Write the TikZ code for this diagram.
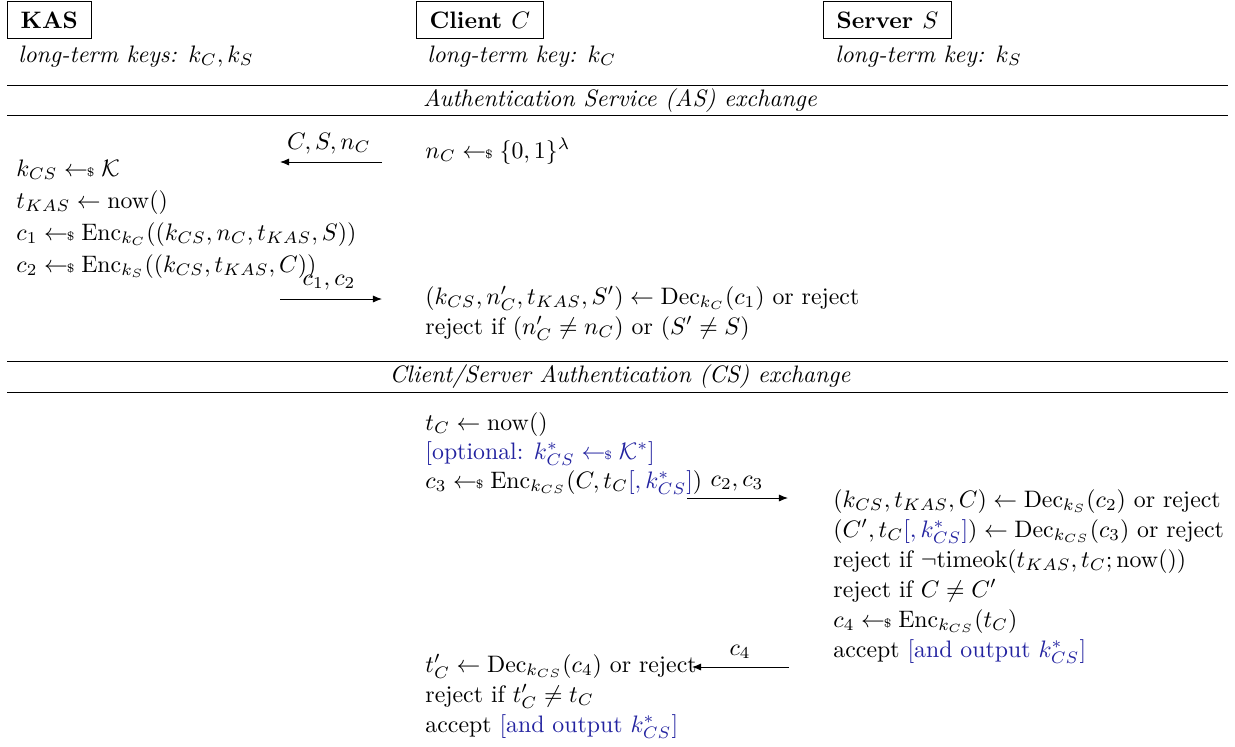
\documentclass[tikz,border=0pt]{standalone}
\usetikzlibrary{arrows.meta}
\usepackage{amsmath,amssymb}
\definecolor{optblue}{RGB}{35,35,160}
\newcommand{\smp}{\mathrel{\gets\!\!\mbox{\tiny$\$$}}}
\newcommand{\opt}[1]{{\color{optblue}#1}}
\begin{document}
\begin{tikzpicture}[x=0.42pt,y=-0.42pt,
  txt/.style={anchor=base west,inner sep=0pt},
  ttl/.style={anchor=base,inner sep=0pt,font=\itshape},
  party/.style={draw,anchor=north west,inner xsep=5.5pt,inner ysep=4.2pt,font=\bfseries},
  rulestyle/.style={line width=0.4pt},
  msg/.style={-{Latex[length=3.8pt,width=3pt]}},
  lbl/.style={anchor=base,inner sep=0pt}]
\useasboundingbox (0,0) rectangle (1235,746);
% headers
\node[party] (kas) at (7,1) {KAS};
\node[party] (cli) at (416,1) {Client $C$};
\node[party] (srv) at (823,1) {Server $S$};
\node[txt] (hk) at (18,62) {\textit{long-term keys: $k_C, k_S$}};
\node[txt] (hc) at (427,62) {\textit{long-term key: $k_C$}};
\node[txt] (hs) at (835,62) {\textit{long-term key: $k_S$}};
% AS section rules
\coordinate (r1l) at (7,85); \coordinate (r1r) at (1228,85);
\coordinate (r2l) at (7,115); \coordinate (r2r) at (1228,115);
\draw[rulestyle] (r1l) -- (r1r);
\draw[rulestyle] (r2l) -- (r2r);
\node[ttl] (t1) at (620,106) {Authentication Service (AS) exchange};
% AS exchange
\node[txt] (c0) at (425,158) {$n_C \smp \{0,1\}^\lambda$};
\coordinate (a1s) at (382,162); \coordinate (a1e) at (280,162);
\draw[msg] (a1s) -- (a1e);
\node[lbl] (l1) at (329,149) {$C, S, n_C$};
\node[txt] (k1) at (16,176) {$k_{CS} \smp \mathcal{K}$};
\node[txt] (k2) at (16,208) {$t_{KAS} \gets \mathrm{now}()$};
\node[txt] (k3) at (16,240) {$c_1 \smp \mathrm{Enc}_{k_C}((k_{CS}, n_C, t_{KAS}, S))$};
\node[txt] (k4) at (16,272) {$c_2 \smp \mathrm{Enc}_{k_S}((k_{CS}, t_{KAS}, C))$};
\coordinate (a2s) at (280,299); \coordinate (a2e) at (382,299);
\draw[msg] (a2s) -- (a2e);
\node[lbl] (l2) at (329,285) {$c_1, c_2$};
\node[txt] (c1) at (425,304) {$(k_{CS}, n'_C, t_{KAS}, S') \gets \mathrm{Dec}_{k_C}(c_1)$ or reject};
\node[txt] (c2) at (425,334) {reject if $(n'_C \neq n_C)$ or $(S' \neq S)$};
% CS section rules
\coordinate (r3l) at (7,361); \coordinate (r3r) at (1228,361);
\coordinate (r4l) at (7,392); \coordinate (r4r) at (1228,392);
\draw[rulestyle] (r3l) -- (r3r);
\draw[rulestyle] (r4l) -- (r4r);
\node[ttl] (t2) at (620,382) {Client/Server Authentication (CS) exchange};
% CS exchange
\node[txt] (c3) at (425,430) {$t_C \gets \mathrm{now}()$};
\node[txt] (c4) at (425,459) {\opt{[optional: $k^*_{CS} \smp \mathcal{K}^*$]}};
\node[txt] (c5) at (425,488) {$c_3 \smp \mathrm{Enc}_{k_{CS}}(C, t_C\opt{[, k^*_{CS}]})$};
\coordinate (a3s) at (687,498); \coordinate (a3e) at (788,498);
\draw[msg] (a3s) -- (a3e);
\node[lbl] (l3) at (737,486) {$c_2, c_3$};
\node[txt] (s1) at (833,507) {$(k_{CS}, t_{KAS}, C) \gets \mathrm{Dec}_{k_S}(c_2)$ or reject};
\node[txt] (s2) at (833,537) {$(C', t_C\opt{[, k^*_{CS}]}) \gets \mathrm{Dec}_{k_{CS}}(c_3)$ or reject};
\node[txt] (s3) at (833,567) {reject if $\neg\mathrm{timeok}(t_{KAS}, t_C; \mathrm{now}())$};
\node[txt] (s4) at (833,597) {reject if $C \neq C'$};
\node[txt] (s5) at (833,627) {$c_4 \smp \mathrm{Enc}_{k_{CS}}(t_C)$};
\node[txt] (s6) at (833,657) {accept \opt{[and output $k^*_{CS}$]}};
\coordinate (a4s) at (789,667); \coordinate (a4e) at (692,667);
\draw[msg] (a4s) -- (a4e);
\node[lbl] (l4) at (740,655) {$c_4$};
\node[txt] (c6) at (425,672) {$t'_C \gets \mathrm{Dec}_{k_{CS}}(c_4)$ or reject};
\node[txt] (c7) at (425,702) {reject if $t'_C \neq t_C$};
\node[txt] (c8) at (425,732) {accept \opt{[and output $k^*_{CS}$]}};
\end{tikzpicture}
\end{document}
